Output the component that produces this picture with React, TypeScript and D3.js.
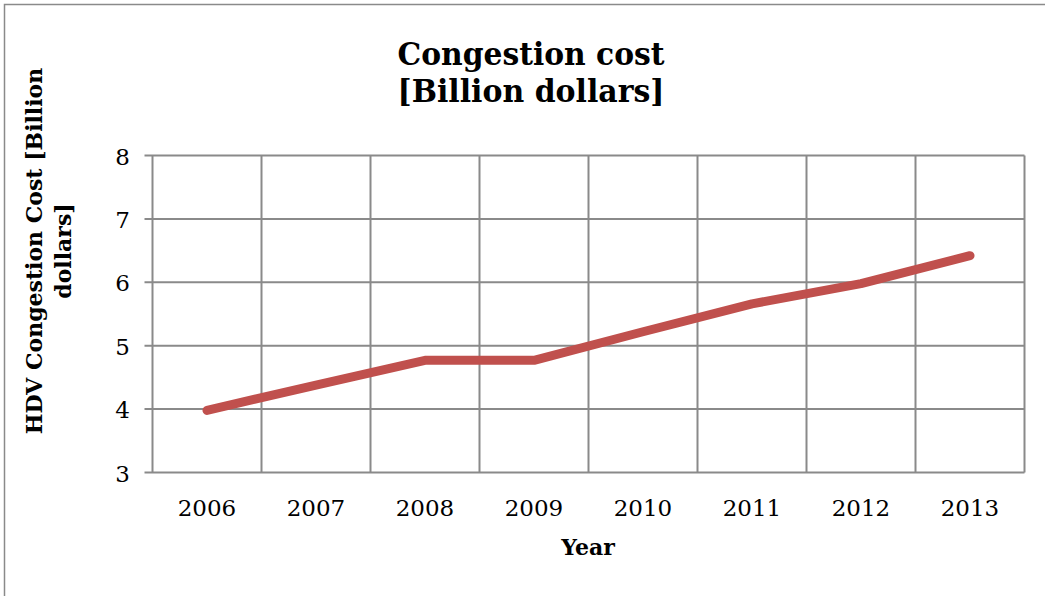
import React from "react";
import * as d3 from "d3";

const years = ["2006", "2007", "2008", "2009", "2010", "2011", "2012", "2013"];
const costs = [3.98, 4.38, 4.77, 4.77, 5.22, 5.66, 5.98, 6.42];
const yTicks = [3, 4, 5, 6, 7, 8];
const titleLines = ["Congestion cost", "[Billion dollars]"];
const yTitleLines = ["HDV Congestion Cost  [Billion", "dollars]"];
const xTitle = "Year";

const W = 1045;
const H = 596;
const plot = { left: 152.5, right: 1024.5, top: 155.5, bottom: 472.5 };
const serif = "'DejaVu Serif', 'Liberation Serif', serif";
const gridColor = "#8a8a8a";

export default function App() {
  const x = d3.scaleBand<string>().domain(years).range([plot.left, plot.right]).paddingInner(0).paddingOuter(0);
  const y = d3.scaleLinear().domain([3, 8]).range([plot.bottom, plot.top]);
  const bw = x.bandwidth();
  const cx = (d: string) => (x(d) as number) + bw / 2;
  const line = d3
    .line<number>()
    .x((_, i) => cx(years[i]))
    .y((d) => y(d));
  const edges = [...years.map((d) => x(d) as number), plot.right];

  return (
    <svg
      width={W}
      height={H}
      style={{ position: "absolute", left: 0, top: 0, background: "#fff" }}
    >
      <rect x={0} y={0} width={W} height={H} fill="#fff" />
      <rect x={4.5} y={4.5} width={W + 10} height={H + 10} fill="none" stroke={gridColor} strokeWidth={1.5} />
      {/* titles */}
      <text x={531} y={65} textAnchor="middle" fontFamily={serif} fontWeight="bold" fontSize={31} textLength={267} lengthAdjust="spacingAndGlyphs" fill="#000">
        {titleLines[0]}
      </text>
      <text x={531} y={102} textAnchor="middle" fontFamily={serif} fontWeight="bold" fontSize={31} textLength={267} lengthAdjust="spacingAndGlyphs" fill="#000">
        {titleLines[1]}
      </text>
      {/* grid */}
      {yTicks.map((t) => (
        <line key={"h" + t} x1={plot.left - 8} x2={plot.right} y1={y(t)} y2={y(t)} stroke={gridColor} strokeWidth={2} />
      ))}
      {edges.map((e, i) => (
        <line key={"v" + i} x1={e} x2={e} y1={plot.top} y2={plot.bottom} stroke={gridColor} strokeWidth={2} />
      ))}
      {/* y tick labels */}
      {yTicks.map((t) => (
        <text key={"yt" + t} x={130} y={y(t) + 9} textAnchor="end" fontFamily={serif} fontSize={23} fill="#000">
          {t}
        </text>
      ))}
      {/* x tick labels */}
      {years.map((d) => (
        <text key={"xt" + d} x={cx(d)} y={516} textAnchor="middle" fontFamily={serif} fontSize={23} fill="#000">
          {d}
        </text>
      ))}
      <text x={588} y={555} textAnchor="middle" fontFamily={serif} fontWeight="bold" fontSize={22} fill="#000">
        {xTitle}
      </text>
      <g transform="translate(42,251) rotate(-90)">
        <text x={0} y={0} textAnchor="middle" fontFamily={serif} fontWeight="bold" fontSize={22} fill="#000">
          {yTitleLines[0]}
        </text>
        <text x={0} y={29} textAnchor="middle" fontFamily={serif} fontWeight="bold" fontSize={22} fill="#000">
          {yTitleLines[1]}
        </text>
      </g>
      <path d={line(costs) ?? ""} fill="none" stroke="#C0504D" strokeWidth={9} strokeLinecap="round" strokeLinejoin="round" />
    </svg>
  );
}
